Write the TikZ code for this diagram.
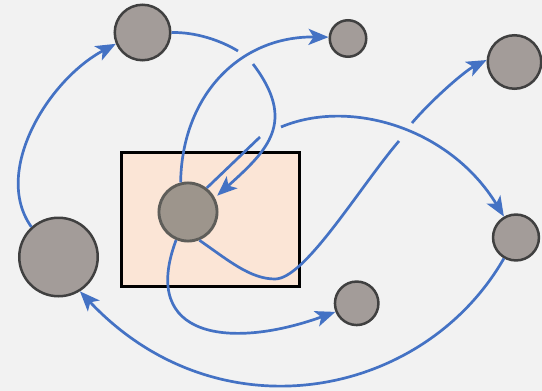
\documentclass[tikz,border=0pt]{standalone}
\usetikzlibrary{arrows.meta}
\definecolor{bgGray}{HTML}{F2F2F2}
\definecolor{boxFill}{HTML}{FBE5D6}
\definecolor{blobFill}{HTML}{A39C99}
\definecolor{blobLine}{HTML}{404040}
\definecolor{hubFill}{HTML}{9D958C}
\definecolor{hubLine}{HTML}{5E5D59}
\definecolor{linkBlue}{HTML}{4472C4}
\begin{document}
\begin{tikzpicture}[x=1pt,y=-1pt,
		blob/.style={shape=circle,draw=blobLine,fill=blobFill,line width=2.5pt,inner sep=0pt},
		box/.style={shape=rectangle,draw=black,fill=boxFill,line width=2.7pt,inner sep=0pt},
		link/.style={draw=linkBlue,line width=2.7pt,-{Stealth[length=20pt,width=16pt,inset=5pt]}},
		linkpart/.style={draw=linkBlue,line width=2.7pt}]
		\fill[bgGray] (0,0) rectangle (542,391);
		\useasboundingbox (0,0) rectangle (542,391);

		\node[box,minimum width=178.3pt,minimum height=134.3pt] (frame) at (210.5,219.5) {};
		\node[blob,minimum size=55.5pt] (nTL) at (142.5,32.5) {};
		\node[blob,minimum size=36.5pt] (nTM) at (348,38.5) {};
		\node[blob,minimum size=53.5pt] (nTR) at (514.5,62) {};
		\node[blob,minimum size=78.5pt] (nL) at (58.5,257) {};
		\node[blob,minimum size=45.9pt] (nR) at (516,237.5) {};
		\node[blob,minimum size=43.5pt] (nB) at (356.7,303.3) {};
		\node[blob,draw=hubLine,fill=hubFill,line width=2.9pt,minimum size=58.1pt] (hub) at (188,212) {};

		\coordinate (g2a) at (238,51);
		\coordinate (g2b) at (253,64);
		\coordinate (g4a) at (260,137);
		\coordinate (g4b) at (281,127);
		\coordinate (g5a) at (399,141);
		\coordinate (g5b) at (412,123);

		\draw[link] (nL.132) .. controls (-8,172) and (48,80) .. (nTL.203);
		\draw[linkpart] (nTL.0) .. controls (195,32) and (220,40) .. (g2a);
		\draw[link,shorten >=3pt] (g2b) .. controls (297,122) and (268,150) .. (hub.28);
		\draw[link] (hub.104) .. controls (182,95) and (240,36) .. (nTM.176);
		\draw[linkpart] (hub.52) -- (g4a);
		\draw[link] (g4b) .. controls (350,98) and (450,128) .. (nR.120);
		\draw[linkpart] (hub.-68) .. controls (228,260) and (250,279) .. (275,279) .. controls (305,279) and (360,186.6) .. (g5a);
		\draw[link] (g5b) .. controls (431.5,100) and (464.7,71) .. (nTR.176);
		\draw[link] (hub.-113) .. controls (139,339) and (231.6,349.4) .. (nB.202);
		\draw[link] (nR.-120) .. controls (423,399) and (218,438) .. (nL.-58);
\end{tikzpicture}
\end{document}
